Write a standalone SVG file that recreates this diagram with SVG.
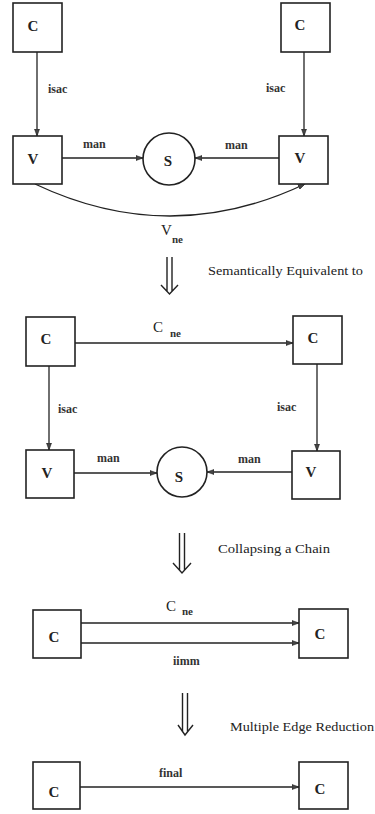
<svg xmlns="http://www.w3.org/2000/svg" width="375" height="814" viewBox="0 0 375 814">
<style>
text{font-family:"Liberation Serif","Times New Roman","DejaVu Serif",serif}
.box{fill:#fff;stroke:#222;stroke-width:1.6}
.node{font-weight:bold;font-size:15px;fill:#222}
.lbl{font-weight:bold;font-size:12px;fill:#333}
.sub{font-weight:bold;font-size:11px;fill:#333}
.cap{font-size:13px;fill:#222}
.big{font-size:15px;fill:#222}
.edge{fill:none;stroke:#222;stroke-width:1.3}
.dbl{fill:none;stroke:#222;stroke-width:1.4}
</style>
<defs>
<marker id="ah" viewBox="0 0 7 6" refX="7" refY="3" markerWidth="7" markerHeight="6" orient="auto" markerUnits="userSpaceOnUse">
<path d="M0,0.5 L7,3 L0,5.5 z" fill="#444" stroke="#222" stroke-width="0.6"/>
</marker>
</defs>
<rect width="375" height="814" fill="#fff"/>

<g id="connectors">
<line class="edge" x1="37" y1="52" x2="37" y2="136" marker-end="url(#ah)"/>
<line class="edge" x1="304" y1="52" x2="304" y2="136" marker-end="url(#ah)"/>
<line class="edge" x1="62" y1="158" x2="143" y2="158" marker-end="url(#ah)"/>
<line class="edge" x1="279" y1="158" x2="195" y2="158" marker-end="url(#ah)"/>
<path class="edge" d="M35,184 Q170,248 305,184" marker-end="url(#ah)"/>
<line class="edge" x1="75" y1="343" x2="293" y2="343" marker-end="url(#ah)"/>
<line class="edge" x1="49" y1="366" x2="49" y2="450" marker-end="url(#ah)"/>
<line class="edge" x1="317" y1="364" x2="317" y2="451" marker-end="url(#ah)"/>
<line class="edge" x1="74" y1="473" x2="157" y2="473" marker-end="url(#ah)"/>
<line class="edge" x1="292" y1="472" x2="207" y2="472" marker-end="url(#ah)"/>
<line class="edge" x1="81" y1="623" x2="299" y2="623" marker-end="url(#ah)"/>
<line class="edge" x1="81" y1="643" x2="299" y2="643" marker-end="url(#ah)"/>
<line class="edge" x1="80" y1="787" x2="299" y2="787" marker-end="url(#ah)"/>
</g>

<g id="d1-c-left"><rect class="box" x="13" y="3" width="49" height="49"/><text class="node" x="33" y="31" text-anchor="middle">C</text></g>
<g id="d1-c-right"><rect class="box" x="281" y="3" width="49" height="49"/><text class="node" x="300" y="30" text-anchor="middle">C</text></g>
<g id="d1-v-left"><rect class="box" x="13" y="136" width="49" height="48"/><text class="node" x="33" y="164" text-anchor="middle">V</text></g>
<g id="d1-v-right"><rect class="box" x="279" y="136" width="49" height="48"/><text class="node" x="300" y="163" text-anchor="middle">V</text></g>
<g id="d1-s"><circle class="box" cx="169" cy="159" r="26"/><text class="node" x="168" y="166" text-anchor="middle">S</text></g>

<g id="d2-c-left"><rect class="box" x="26" y="317" width="49" height="49"/><text class="node" x="46" y="344" text-anchor="middle">C</text></g>
<g id="d2-c-right"><rect class="box" x="293" y="316" width="49" height="48"/><text class="node" x="313" y="343" text-anchor="middle">C</text></g>
<g id="d2-v-left"><rect class="box" x="26" y="450" width="48" height="48"/><text class="node" x="47" y="478" text-anchor="middle">V</text></g>
<g id="d2-v-right"><rect class="box" x="292" y="451" width="48" height="48"/><text class="node" x="311" y="477" text-anchor="middle">V</text></g>
<g id="d2-s"><circle class="box" cx="182" cy="472" r="25"/><text class="node" x="179" y="482" text-anchor="middle">S</text></g>

<g id="d3-c-left"><rect class="box" x="33" y="610" width="48" height="48"/><text class="node" x="54" y="642" text-anchor="middle">C</text></g>
<g id="d3-c-right"><rect class="box" x="299" y="609" width="49" height="49"/><text class="node" x="320" y="639" text-anchor="middle">C</text></g>

<g id="d4-c-left"><rect class="box" x="33" y="762" width="47" height="47"/><text class="node" x="54" y="797" text-anchor="middle">C</text></g>
<g id="d4-c-right"><rect class="box" x="299" y="762" width="49" height="47"/><text class="node" x="320" y="794" text-anchor="middle">C</text></g>

<g id="labels">
<text class="lbl" x="48" y="93">isac</text>
<text class="lbl" x="266" y="92">isac</text>
<text class="lbl" x="83" y="148">man</text>
<text class="lbl" x="225" y="149">man</text>
<text class="big" x="161" y="235">V</text><text class="sub" x="172" y="243">ne</text>
<text class="big" x="153" y="332">C</text><text class="sub" x="170" y="337">ne</text>
<text class="lbl" x="58" y="413">isac</text>
<text class="lbl" x="277" y="411">isac</text>
<text class="lbl" x="97" y="462">man</text>
<text class="lbl" x="238" y="463">man</text>
<text class="big" x="166" y="611">C</text><text class="sub" x="182" y="615">ne</text>
<text class="lbl" x="173" y="665">iimm</text>
<text class="lbl" x="159" y="777">final</text>
<text class="cap" x="208" y="275" textLength="155" lengthAdjust="spacingAndGlyphs">Semantically Equivalent to</text>
<text class="cap" x="218" y="553" textLength="112" lengthAdjust="spacingAndGlyphs">Collapsing a Chain</text>
<text class="cap" x="230" y="731" textLength="144" lengthAdjust="spacingAndGlyphs">Multiple Edge Reduction</text>
</g>

<g id="transforms">
<path class="dbl" d="M167,257 V291 M172,257 V291 M161,285 L169.5,294 L178,285"/>
<path class="dbl" d="M179.5,533 V570 M184.5,533 V570 M173,563 L182,573 L191,563"/>
<path class="dbl" d="M182.5,693 V732 M187.5,693 V732 M178,725 L185,735 L193,725"/>
</g>
</svg>
